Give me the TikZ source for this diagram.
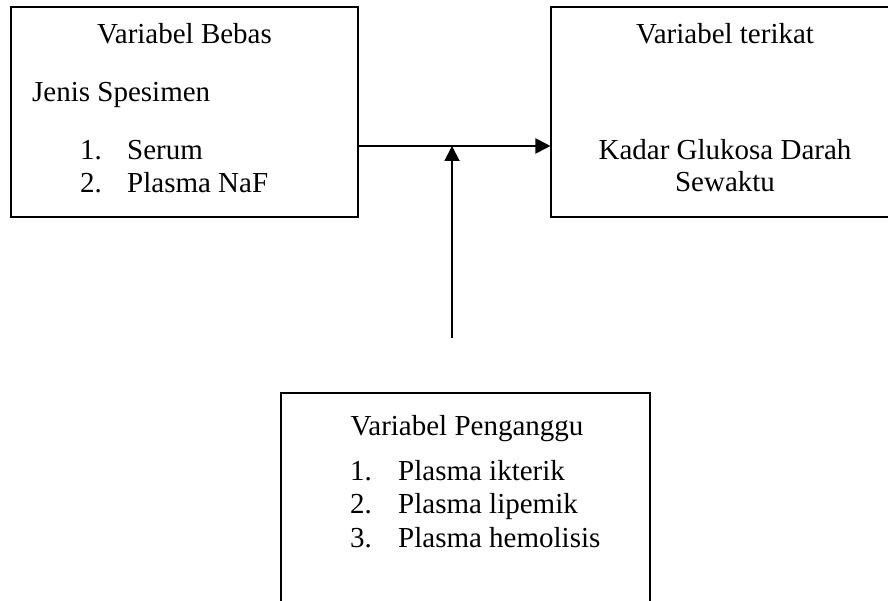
\documentclass[tikz,border=0pt]{standalone}
\usepackage{fontspec}
\setmainfont{Liberation Serif}
\usepackage{tikz}
\usetikzlibrary{arrows.meta, positioning}
\tikzstyle{box} = [rectangle, draw=black, line width=1.1pt, inner sep=0]
\tikzstyle{txt} = [inner sep=0, anchor=base, font=\fontsize{29}{34}\selectfont]
\tikzstyle{item} = [txt, anchor=base west]
\tikzstyle{flow} = [line width=1.9pt, -{Triangle[length=15pt, width=15pt]}]

\begin{document}
\begin{tikzpicture}[x=1pt, y=1pt]
				\useasboundingbox (0, 0) rectangle (888, 600);
				\clip (0, 0) rectangle (888, 600);

				\node (Bebas) [box, minimum width=347, minimum height=210] at (184.5, 488) {};
				\node (BebasTitle) [txt] at (184.5, 556) {Variabel Bebas};
				\node (Jenis) [item] at (32, 498) {Jenis Spesimen};
				\node (BebasNo1) [item] at (80, 440) {1.};
				\node (Serum) [item] at (127, 440) {Serum};
				\node (BebasNo2) [item] at (80, 407) {2.};
				\node (NaF) [item] at (127, 407) {Plasma NaF};

				\node (Terikat) [box, minimum width=348, minimum height=210] at (725, 488) {};
				\node (TerikatTitle) [txt] at (725, 556) {Variabel terikat};
				\node (Kadar) [txt] at (725, 440) {Kadar Glukosa Darah};
				\node (Sewaktu) [txt] at (725, 408) {Sewaktu};

				\node (Pengganggu) [box, minimum width=369, minimum height=217] at (465.5, 98.5) {};
				\node (PenggangguTitle) [txt] at (467, 165) {Variabel Penganggu};
				\node (PengNo1) [item] at (350, 120) {1.};
				\node (Ikterik) [item] at (398, 120) {Plasma ikterik};
				\node (PengNo2) [item] at (350, 87) {2.};
				\node (Lipemik) [item] at (398, 87) {Plasma lipemik};
				\node (PengNo3) [item] at (350, 53) {3.};
				\node (Hemolisis) [item] at (398, 53) {Plasma hemolisis};

				\coordinate (Joint) at (452, 454);
				\draw[flow] (Bebas.east |- Joint) -- (Terikat.west |- Joint);

				\coordinate (Tail) at (452, 262);
				\draw[flow] (Tail) -- (Joint);
\end{tikzpicture}
\end{document}
